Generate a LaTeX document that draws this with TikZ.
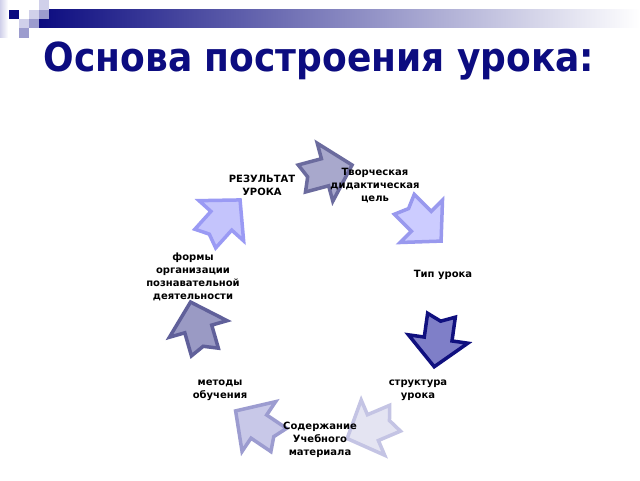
\documentclass[tikz,border=0pt]{standalone}
\usepackage{fontspec}
\setmainfont{DejaVu Sans}
\newfontfamily\titlefont{DejaVu Sans Condensed}
\usetikzlibrary{positioning}

\definecolor{navy}{HTML}{0C0C80}
\definecolor{sqlight}{HTML}{D0D0EA}
\definecolor{sqmid}{HTML}{9C9CCE}

\tikzset{
  cyclearrow/.pic={
    \draw[pic actions] (-25,-14) -- (-1,-14) -- (-1,-30) -- (27,0) -- (-1,30) -- (-1,14) -- (-25,14) -- (-19,0) -- cycle;
  },
  steplabel/.style={align=center,inner sep=0pt,font=\bfseries\fontsize{10}{13}\selectfont},
  arrowline/.style={line width=3.5pt}
}

\begin{document}
\begin{tikzpicture}[line cap=butt,line join=miter,x=1pt,y=1pt]
\useasboundingbox (0,0) rectangle (640,480);
\fill[white] (0,0) rectangle (640,480);
% header bar and squares
\shade[left color=sqlight,right color=white] (0,442) rectangle (8,480);
\shade[left color=navy,right color=white] (39,452) rectangle (640,470);
\fill[sqlight] (39,470) rectangle (49,480);
\fill[navy] (9,461) rectangle (19,470);
\fill[sqlight] (29,461) rectangle (39,470);
\fill[sqmid] (39,461) rectangle (49,470);
\fill[sqlight] (19,452) rectangle (29,461);
\fill[sqmid] (29,452) rectangle (39,461);
\fill[sqmid] (19,442) rectangle (29,452);
% title
\node[anchor=base,inner sep=0pt,text=navy,font=\titlefont\bfseries\fontsize{40}{44}\selectfont] (title) at (319,408) {Основа построения урока:};
% arrows of the cycle
\pic[rotate=15,fill={rgb,255:red,168;green,168;blue,204},draw={rgb,255:red,107;green,107;blue,158},arrowline] (goalarrow) at (326,308) {cyclearrow};
\pic[rotate=-45,fill={rgb,255:red,204;green,204;blue,255},draw={rgb,255:red,153;green,153;blue,238},arrowline] (typearrow) at (422,258) {cyclearrow};
\pic[rotate=-98,fill={rgb,255:red,127;green,127;blue,200},draw={rgb,255:red,16;green,16;blue,127},arrowline] (structarrow) at (438,140) {cyclearrow};
\pic[rotate=-157,fill={rgb,255:red,228;green,228;blue,242},draw={rgb,255:red,196;green,196;blue,228},arrowline] (contentarrow) at (372,52) {cyclearrow};
\pic[rotate=146,fill={rgb,255:red,200;green,200;blue,232},draw={rgb,255:red,156;green,156;blue,208},arrowline] (methodarrow) at (258,54) {cyclearrow};
\pic[rotate=106,fill={rgb,255:red,154;green,154;blue,196},draw={rgb,255:red,96;green,96;blue,154},arrowline] (formarrow) at (198,152) {cyclearrow};
\pic[rotate=48,fill={rgb,255:red,196;green,196;blue,252},draw={rgb,255:red,154;green,154;blue,244},arrowline] (resultarrow) at (222,260) {cyclearrow};
% labels
\node[steplabel] (goal) at (375,294) {Творческая\\дидактическая\\цель};
\node[steplabel] (result) at (262,295) {РЕЗУЛЬТАТ\\УРОКА};
\node[steplabel] (type) at (443,205) {Тип урока};
\node[steplabel] (forms) at (193,203.5) {формы\\организации\\познавательной\\деятельности};
\node[steplabel] (structure) at (418,90) {структура\\урока};
\node[steplabel] (methods) at (220,90) {методы\\обучения};
\node[steplabel] (content) at (320,40) {Содержание\\Учебного\\материала};
\end{tikzpicture}
\end{document}
